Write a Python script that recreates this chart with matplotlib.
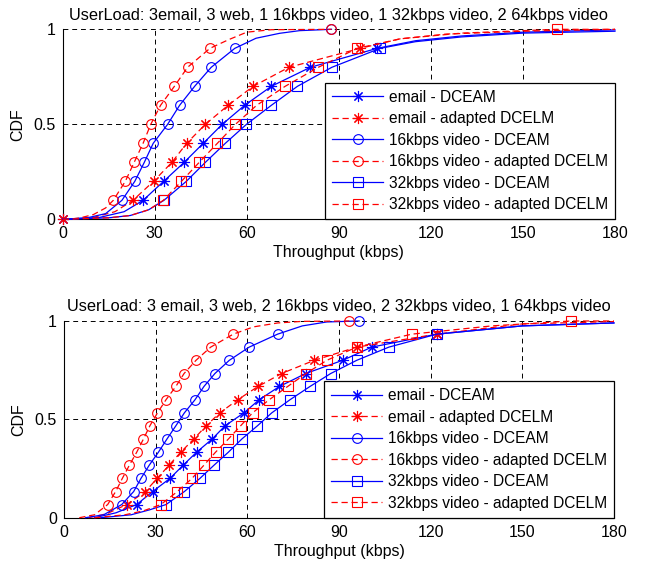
import numpy as np
import matplotlib
matplotlib.use("Agg")
import matplotlib.pyplot as plt

plt.rcParams['font.family'] = ['Liberation Sans', 'DejaVu Sans']

titles = ["UserLoad: 3email, 3 web, 1 16kbps video, 1 32kbps video, 2 64kbps video",
          "UserLoad: 3 email, 3 web, 2 16kbps video, 2 32kbps video, 1 64kbps video"]
labels = ["email - DCEAM", "email - adapted DCELM",
          "16kbps video - DCEAM", "16kbps video - adapted DCELM",
          "32kbps video - DCEAM", "32kbps video - adapted DCELM"]
xticks = [0, 30, 60, 90, 120, 150, 180]
yticks = [0, 0.5, 1]
ytick_labels = ["0", "0.5", "1"]

# CDF levels where the markers sit
top_q = [0.1, 0.2, 0.3, 0.4, 0.5, 0.6, 0.7, 0.8, 0.9]
bot_q = [0.067, 0.133, 0.2, 0.267, 0.333, 0.4, 0.467, 0.533, 0.6,
         0.667, 0.733, 0.8, 0.867, 0.933]

# ---- top panel (throughput in kbps) ----
t_email_dceam_x = [0, 12, 20, 26.2, 32.9, 39.6, 45.8, 52.0, 59.3, 68.0, 80.7, 102.5, 115, 130, 150, 180]
t_email_dceam_y = [0, 0.01, 0.04] + top_q + [0.94, 0.965, 0.985, 0.997]
t_email_dceam_m = [0] + list(range(3, 12))

t_email_adapt_x = [0, 10, 17, 22.9, 29.6, 35.6, 40.4, 46.5, 53.9, 62.1, 73.7, 97.0, 110, 125, 150, 180]
t_email_adapt_y = [0, 0.01, 0.04] + top_q + [0.95, 0.975, 0.99, 1.0]
t_email_adapt_m = [0] + list(range(3, 12))

t_v16_dceam_x = [0, 8, 14, 19.3, 23.5, 26.6, 29.5, 34.2, 38.1, 43.0, 48.4, 56.1, 63, 70.7, 77.2, 87.6]
t_v16_dceam_y = [0, 0.008, 0.03] + top_q + [0.953, 0.979, 0.993, 1.0]
t_v16_dceam_m = list(range(3, 12)) + [15]

t_v16_adapt_x = [0, 5, 10, 14, 16.5, 20.4, 23.3, 26.2, 28.7, 31.9, 36.4, 40.7, 48.0, 54, 60, 68, 87.6]
t_v16_adapt_y = [0, 0.005, 0.025, 0.06] + top_q + [0.945, 0.985, 0.998, 1.0]
t_v16_adapt_m = list(range(4, 13)) + [16]

t_v32_dceam_x = [0, 15, 22, 28, 33.0, 40.3, 46.5, 53.0, 59.9, 68.0, 76.5, 87.7, 103.5, 115, 130, 150, 180]
t_v32_dceam_y = [0, 0.008, 0.02, 0.05] + top_q + [0.935, 0.96, 0.98, 0.99]
t_v32_dceam_m = list(range(4, 13))

t_v32_adapt_x = [0, 15, 22, 28, 32.8, 38.7, 44.5, 50.4, 56.3, 63.2, 72.5, 83.3, 96.0, 110, 130, 161, 180]
t_v32_adapt_y = [0, 0.008, 0.02, 0.05] + top_q + [0.95, 0.98, 1.0, 1.0]
t_v32_adapt_m = list(range(4, 13)) + [15]

# ---- bottom panel ----
b_email_dceam_x = [10, 17, 23.8, 29.0, 34.7, 39.0, 43.4, 48.5, 52.7, 58.9, 63.9, 70.5, 79.1, 91.2, 100.7, 122.0, 150, 180]
b_email_dceam_y = [0, 0.025] + bot_q + [0.975, 0.99]
b_email_dceam_m = list(range(2, 16))

b_email_adapt_x = [8, 14, 20.5, 26.6, 30.5, 34.4, 38.2, 42.5, 46.5, 51.0, 56.9, 63.5, 71.2, 81.9, 95.8, 122.0, 150, 180]
b_email_adapt_y = [0, 0.02] + bot_q + [0.985, 0.997]
b_email_adapt_m = list(range(2, 16))

b_v16_dceam_x = [7, 13, 18.9, 22.8, 25.2, 27.9, 30.9, 33.7, 36.6, 39.4, 42.9, 45.8, 49.4, 54.1, 60.6, 69.9, 78, 86, 96.6]
b_v16_dceam_y = [0, 0.015] + bot_q + [0.975, 0.995, 1.0]
b_v16_dceam_m = list(range(2, 16)) + [18]

b_v16_adapt_x = [5, 10, 14.3, 16.9, 19.1, 21.4, 23.8, 26.0, 28.1, 30.6, 33.4, 36.6, 39.3, 43.2, 48.0, 55.4, 62, 70, 78, 93.4]
b_v16_adapt_y = [0, 0.015] + bot_q + [0.97, 0.99, 0.998, 1.0]
b_v16_adapt_m = list(range(2, 16)) + [19]

b_v32_dceam_x = [12, 22, 28, 33.4, 39.4, 44.5, 49.1, 53.8, 58.2, 63.3, 68.0, 74.0, 80.5, 87.3, 95.8, 106.3, 122.0, 150, 180]
b_v32_dceam_y = [0, 0.015, 0.04] + bot_q + [0.975, 0.99]
b_v32_dceam_m = list(range(3, 17))

b_v32_adapt_x = [10, 20, 26, 31.7, 37.1, 41.9, 45.8, 49.6, 53.8, 57.8, 61.7, 67.2, 73.2, 79.2, 86.0, 95.8, 113.8, 140, 165.9, 180]
b_v32_adapt_y = [0, 0.015, 0.035] + bot_q + [0.975, 1.0, 1.0]
b_v32_adapt_m = list(range(3, 17)) + [18]

top_series = [(t_email_dceam_x, t_email_dceam_y, t_email_dceam_m),
              (t_email_adapt_x, t_email_adapt_y, t_email_adapt_m),
              (t_v16_dceam_x, t_v16_dceam_y, t_v16_dceam_m),
              (t_v16_adapt_x, t_v16_adapt_y, t_v16_adapt_m),
              (t_v32_dceam_x, t_v32_dceam_y, t_v32_dceam_m),
              (t_v32_adapt_x, t_v32_adapt_y, t_v32_adapt_m)]
bot_series = [(b_email_dceam_x, b_email_dceam_y, b_email_dceam_m),
              (b_email_adapt_x, b_email_adapt_y, b_email_adapt_m),
              (b_v16_dceam_x, b_v16_dceam_y, b_v16_dceam_m),
              (b_v16_adapt_x, b_v16_adapt_y, b_v16_adapt_m),
              (b_v32_dceam_x, b_v32_dceam_y, b_v32_dceam_m),
              (b_v32_adapt_x, b_v32_adapt_y, b_v32_adapt_m)]

asterisk = (8, 2, 0)
styles = [("#0000ff", asterisk, "-"), ("#ff0000", asterisk, "--"),
          ("#0000ff", "o", "-"), ("#ff0000", "o", "--"),
          ("#0000ff", "s", "-"), ("#ff0000", "s", "--")]


def draw_panel(ax, series, title):
    for (x, y, m), lab, (c, mk, ls) in zip(series, labels, styles):
        line, = ax.plot(x, y, color=c, marker=mk, markevery=m, mfc='none', mec=c,
                        ms=7 if mk != asterisk else 8, mew=0.8, lw=0.9,
                        label=lab, clip_on=False, zorder=3)
        if ls == "--":
            line.set_dashes((5, 3))
    ax.set_xlim(0, 180)
    ax.set_ylim(0, 1)
    ax.set_xticks(xticks)
    ax.set_yticks(yticks)
    ax.set_yticklabels(ytick_labels)
    ax.grid(True, color='k', linestyle=(0, (5, 4)), linewidth=0.7)
    ax.set_axisbelow(True)
    ax.spines['top'].set_visible(False)
    ax.spines['right'].set_visible(False)
    ax.tick_params(direction='in', length=0, labelsize=11.5, pad=5)
    ax.set_title(title, fontsize=11.8, pad=7)
    ax.set_xlabel("Throughput (kbps)", fontsize=11.5, labelpad=3)
    ax.set_ylabel("CDF", fontsize=11.5, labelpad=6)
    leg = ax.legend(loc='lower right', bbox_to_anchor=(1.0, 0.0), borderaxespad=0,
                    fontsize=11.2, handlelength=3.3, handletextpad=0.35,
                    labelspacing=0.42, borderpad=0.45, fancybox=False, framealpha=1)
    leg.get_frame().set_edgecolor('k')
    leg.get_frame().set_linewidth(0.9)
    leg.set_zorder(5)


fig = plt.figure(figsize=(6.51, 5.66), dpi=100)
ax1 = fig.add_axes([0.0963, 0.6125, 0.8484, 0.3357])
ax2 = fig.add_axes([0.0983, 0.0853, 0.8448, 0.3476])
draw_panel(ax1, top_series, titles[0])
draw_panel(ax2, bot_series, titles[1])

fig.savefig("out.png", dpi=100)
